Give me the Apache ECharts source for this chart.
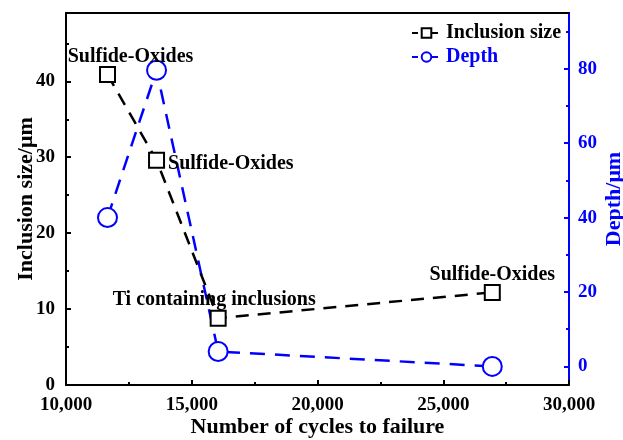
<!DOCTYPE html>
<html>
<head>
<meta charset="utf-8">
<script src="https://cdn.jsdelivr.net/npm/echarts@6/dist/echarts.min.js"></script>
<style>
  html, body { margin: 0; padding: 0; background: #fff; }
  #chart { width: 623px; height: 440px; }
</style>
</head>
<body>
<div id="chart"></div>
<script>
// cycles to failure / inclusion size (μm) / depth (μm)
var cycles = [11650, 13600, 16050, 26950];
var inclusionSize = [40.9, 29.6, 8.8, 12.2];
var depth = [40.0, 79.6, 4.0, 0.0];
var inclusionTypes = ['Sulfide-Oxides', 'Sulfide-Oxides', 'Ti containing inclusions', 'Sulfide-Oxides'];

var sizeTicks = [0, 10, 20, 30, 40];
var sizeMinorTicks = [5, 15, 25, 35, 45];
var depthTicks = [0, 20, 40, 60, 80];
var depthMinorTicks = [10, 30, 50, 70, 90];

var FONT = '"Liberation Serif", "Times New Roman", serif';
var BLUE = '#0000ff';

// where each annotation sits relative to its square
var labelPlace = [
	{ position: 'top', offset: [23, 0], distance: -1 },
	{ position: 'right', offset: [0, 4], distance: 3 },
	{ position: 'top', offset: [-4, 0], distance: 0 },
	{ position: 'top', offset: [0, 0], distance: -1 }
];

function fmtThousands(v) {
	return String(v).replace(/\B(?=(\d{3})+(?!\d))/g, ',');
}

var sizeData = cycles.map(function (c, i) {
	return {
		value: [c, inclusionSize[i]],
		label: {
			show: true,
			formatter: inclusionTypes[i],
			position: labelPlace[i].position,
			offset: labelPlace[i].offset,
			distance: labelPlace[i].distance
		}
	};
});
var depthData = cycles.map(function (c, i) {
	return [c, depth[i]];
});

var chart = echarts.init(document.getElementById('chart'));

chart.setOption({
	animation: false,
	backgroundColor: '#fff',
	textStyle: { fontFamily: FONT },
	grid: { left: 66, right: 54, top: 13, bottom: 55, outerBoundsMode: 'none' },
	legend: {
		orient: 'vertical',
		left: 406,
		top: 18,
		itemWidth: 29,
		itemHeight: 12,
		itemGap: 4,
		lineStyle: { type: [6, 4] },
		textStyle: { fontFamily: FONT, fontWeight: 'bold', fontSize: 20 },
		data: [
			{ name: 'Inclusion size', textStyle: { color: '#000' } },
			{ name: 'Depth', textStyle: { color: BLUE } }
		]
	},
	xAxis: [{
		type: 'value',
		min: 10000,
		max: 30000,
		interval: 5000,
		name: 'Number of cycles to failure',
		nameLocation: 'middle',
		nameGap: 31,
		nameMoveOverlap: false,
		nameTextStyle: { fontFamily: FONT, fontWeight: 'bold', fontSize: 22, color: '#000' },
		axisLine: { onZero: false, lineStyle: { color: '#000', width: 2 } },
		axisTick: { inside: true, length: 5, lineStyle: { color: '#000', width: 2 } },
		minorTick: { show: true, splitNumber: 2, length: 3, lineStyle: { color: '#000', width: 2 } },
		axisLabel: {
			margin: 11,
			fontFamily: FONT, fontWeight: 'bold', fontSize: 19, color: '#000',
			formatter: fmtThousands
		},
		splitLine: { show: false }
	}, {
		type: 'value',
		position: 'top',
		min: 10000,
		max: 30000,
		axisLine: { onZero: false, lineStyle: { color: '#000', width: 2 } },
		axisTick: { show: false },
		axisLabel: { show: false },
		splitLine: { show: false }
	}],
	yAxis: [{
		type: 'value',
		position: 'left',
		min: 0,
		max: 49,
		name: 'Inclusion size/μm',
		nameLocation: 'middle',
		nameRotate: 90,
		nameGap: 29,
		nameMoveOverlap: false,
		nameTextStyle: { fontFamily: FONT, fontWeight: 'bold', fontSize: 22, color: '#000' },
		axisLine: { show: true, onZero: false, lineStyle: { color: '#000', width: 2 } },
		axisTick: { show: true, inside: true, length: 5, customValues: sizeTicks, lineStyle: { color: '#000', width: 2 } },
		axisLabel: {
			customValues: sizeTicks,
			margin: 11,
			fontFamily: FONT, fontWeight: 'bold', fontSize: 19, color: '#000'
		},
		splitLine: { show: false }
	}, {
		type: 'value',
		position: 'right',
		min: -5,
		max: 95,
		name: 'Depth/μm',
		nameLocation: 'middle',
		nameRotate: 90,
		nameGap: 34,
		nameMoveOverlap: false,
		nameTextStyle: { fontFamily: FONT, fontWeight: 'bold', fontSize: 22, color: BLUE },
		axisLine: { show: true, onZero: false, lineStyle: { color: BLUE, width: 2 } },
		axisTick: { show: true, inside: true, length: 5, customValues: depthTicks, lineStyle: { color: BLUE, width: 2 } },
		axisLabel: {
			customValues: depthTicks,
			margin: 9,
			fontFamily: FONT, fontWeight: 'bold', fontSize: 19, color: BLUE
		},
		splitLine: { show: false }
	}, {
		// minor ticks, left
		type: 'value',
		position: 'left',
		min: 0,
		max: 49,
		axisLine: { show: false, onZero: false },
		axisTick: { show: true, inside: true, length: 3, customValues: sizeMinorTicks, lineStyle: { color: '#000', width: 2 } },
		axisLabel: { show: false },
		splitLine: { show: false }
	}, {
		// minor ticks, right
		type: 'value',
		position: 'right',
		min: -5,
		max: 95,
		axisLine: { show: false, onZero: false },
		axisTick: { show: true, inside: true, length: 3, customValues: depthMinorTicks, lineStyle: { color: BLUE, width: 2 } },
		axisLabel: { show: false },
		splitLine: { show: false }
	}],
	series: [{
		name: 'Inclusion size',
		type: 'line',
		xAxisIndex: 0,
		yAxisIndex: 0,
		data: sizeData,
		symbol: 'rect',
		symbolSize: 15,
		itemStyle: { color: '#fff', borderColor: '#000', borderWidth: 2 },
		lineStyle: { color: '#000', width: 2.5, type: [13, 9] },
		label: {
			color: '#000',
			fontFamily: FONT,
			fontWeight: 'bold',
			fontSize: 20
		},
		z: 3
	}, {
		name: 'Depth',
		type: 'line',
		xAxisIndex: 0,
		yAxisIndex: 1,
		data: depthData,
		symbol: 'circle',
		symbolSize: 19,
		itemStyle: { color: '#fff', borderColor: BLUE, borderWidth: 2 },
		lineStyle: { color: BLUE, width: 2.5, type: [15, 10] },
		z: 2
	}]
});
</script>
</body>
</html>
